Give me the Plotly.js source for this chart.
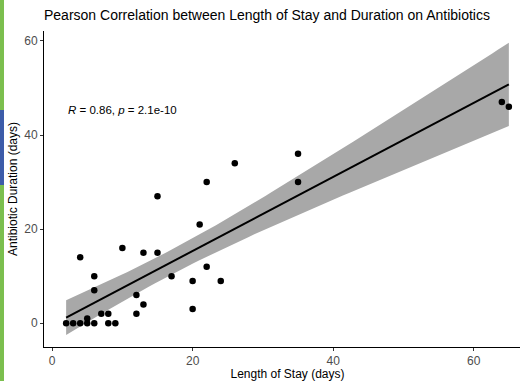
<!DOCTYPE html>
<html>
<head>
<meta charset="utf-8">
<script src="https://cdn.plot.ly/plotly-3.0.1.min.js"></script>
<style>
  html, body { margin: 0; padding: 0; overflow: hidden; background: #fff; width: 520px; height: 381px; }
  #chart { position: absolute; left: 0; top: 0; width: 540px; height: 381px; }
  .strip { position: absolute; left: 0; width: 4px; }
</style>
</head>
<body>
<div id="chart"></div>
<div class="strip" style="top:0;height:381px;background:#7bbf4e;"></div>
<div class="strip" style="top:110px;height:75px;background:#3d5ca9;"></div>
<script>
// Length of stay (days)
var lengthOfStay = [2, 3, 4, 4, 5, 5, 6, 6, 6, 7, 8, 8, 9, 10, 12, 12, 13, 13, 15, 15,
                    17, 20, 20, 21, 22, 24, 22, 26, 35, 35, 64, 65];
// Antibiotic duration (days)
var antibioticDuration = [0, 0, 0, 14, 1, 0, 0, 10, 7, 2, 2, 0, 0, 16, 6, 2, 4, 15, 15, 27,
                          10, 9, 3, 21, 12, 9, 30, 34, 36, 30, 47, 46];
var corrLabel = "<i>R</i> = 0.86, <i>p</i> = 2.1e-10";
var xTicks = [0, 20, 40, 60];
var yTicks = [0, 20, 40, 60];
var T975 = 2.042; // t quantile, df = n - 2 = 30

// linear fit with 95% confidence band
var n = lengthOfStay.length;
var mx = lengthOfStay.reduce(function(a, b){return a + b;}, 0) / n;
var my = antibioticDuration.reduce(function(a, b){return a + b;}, 0) / n;
var sxx = 0, sxy = 0;
for (var i = 0; i < n; i++) {
  sxx += (lengthOfStay[i] - mx) * (lengthOfStay[i] - mx);
  sxy += (lengthOfStay[i] - mx) * (antibioticDuration[i] - my);
}
var slope = sxy / sxx, icpt = my - slope * mx;
var sse = 0;
for (var i = 0; i < n; i++) {
  var r = antibioticDuration[i] - (icpt + slope * lengthOfStay[i]);
  sse += r * r;
}
var s = Math.sqrt(sse / (n - 2));
var xmin = Math.min.apply(null, lengthOfStay), xmax = Math.max.apply(null, lengthOfStay);
var gx = [], gy = [], up = [], lo = [];
for (var k = 0; k <= 80; k++) {
  var x = xmin + (xmax - xmin) * k / 80;
  var yh = icpt + slope * x;
  var se = s * Math.sqrt(1 / n + (x - mx) * (x - mx) / sxx);
  gx.push(x); gy.push(yh); up.push(yh + T975 * se); lo.push(yh - T975 * se);
}
var bandX = gx.concat(gx.slice().reverse());
var bandY = up.concat(lo.slice().reverse());

var traces = [
  {x: bandX, y: bandY, type: 'scatter', mode: 'lines', fill: 'toself',
   fillcolor: 'rgb(168,168,168)', line: {width: 0, color: 'rgba(0,0,0,0)'}, hoverinfo: 'skip'},
  {x: gx, y: gy, type: 'scatter', mode: 'lines', line: {color: '#000', width: 2}},
  {x: lengthOfStay, y: antibioticDuration, type: 'scatter', mode: 'markers',
   marker: {color: '#000', size: 6.5}}
];

var axisCommon = {
  showgrid: false, zeroline: false, showline: true, linecolor: '#000', linewidth: 1,
  ticks: 'outside', ticklen: 3, tickcolor: '#333', tickwidth: 1,
  tickfont: {family: 'Liberation Sans, Arial, sans-serif', size: 12, color: '#4d4d4d'},
  tickmode: 'array'
};

var layout = {
  width: 540, height: 381,
  margin: {l: 44, r: 9, t: 31, b: 34},
  paper_bgcolor: '#fff', plot_bgcolor: '#fff',
  showlegend: false,
  font: {family: 'Liberation Sans, Arial, sans-serif', color: '#000'},
  title: {text: 'Pearson Correlation between Length of Stay and Duration on Antibiotics',
          font: {size: 14, color: '#000', family: 'Liberation Sans, Arial, sans-serif'},
          x: 0, xref: 'paper', xanchor: 'left', y: 1 - 15 / 381, yref: 'container', yanchor: 'middle'},
  xaxis: Object.assign({}, axisCommon, {
    range: [-1.15, 68.15], tickvals: xTicks, ticktext: xTicks.map(String),
    title: {text: 'Length of Stay (days)', standoff: 2,
            font: {size: 12, color: '#000', family: 'Liberation Sans, Arial, sans-serif'}}
  }),
  yaxis: Object.assign({}, axisCommon, {
    range: [-5.05, 62.1], tickvals: yTicks, ticktext: yTicks.map(String),
    title: {text: 'Antibiotic Duration (days)', standoff: 4,
            font: {size: 12, color: '#000', family: 'Liberation Sans, Arial, sans-serif'}}
  }),
  annotations: [{
    x: 2, y: 45.3, xref: 'x', yref: 'y', xanchor: 'left', yanchor: 'middle',
    text: corrLabel, showarrow: false,
    font: {size: 11.5, color: '#000', family: 'Liberation Sans, Arial, sans-serif'}
  }]
};

Plotly.newPlot('chart', traces, layout, {displayModeBar: false, staticPlot: true});
</script>
</body>
</html>
